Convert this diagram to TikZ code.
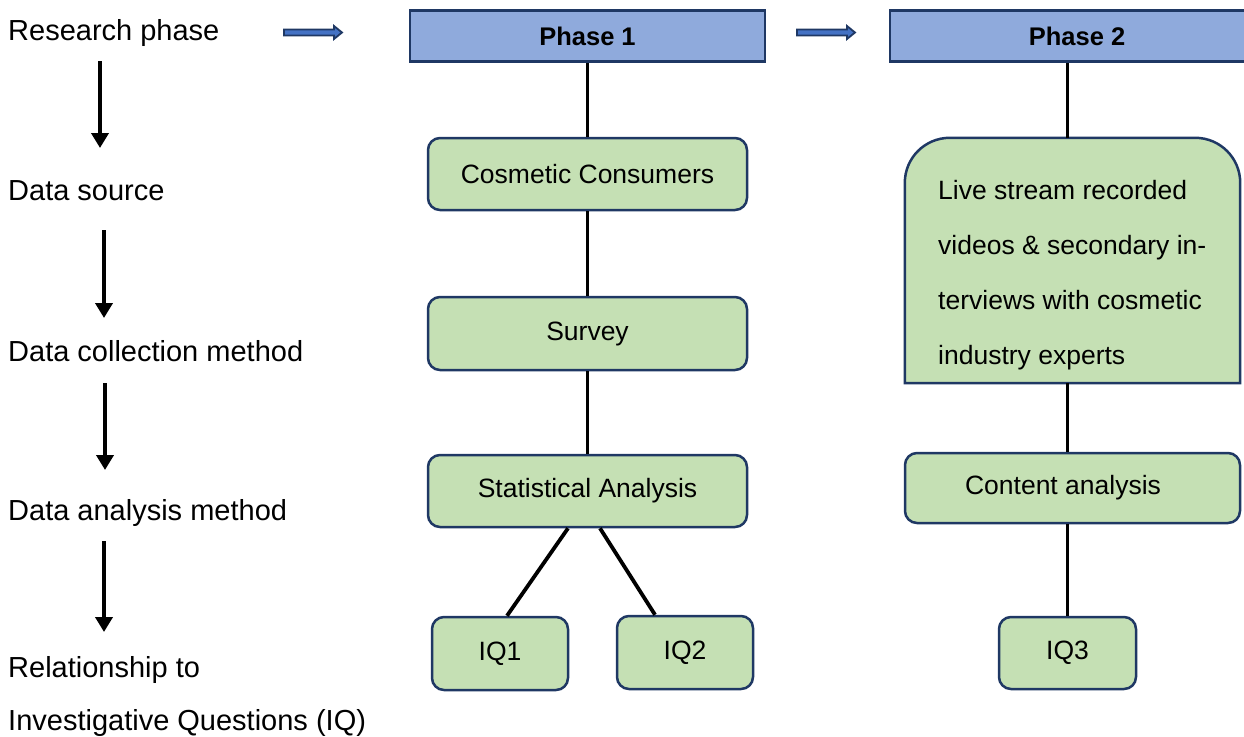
\documentclass[tikz,border=0pt]{standalone}
\usepackage{fontspec}
\setmainfont{Liberation Sans}
\usetikzlibrary{arrows.meta}
\definecolor{phaseblue}{HTML}{8FAADC}
\definecolor{navy}{HTML}{1F3864}
\definecolor{boxgreen}{HTML}{C5E0B4}
\definecolor{arrowblue}{HTML}{4472C4}
\tikzset{
  rowlabel/.style={anchor=west, inner sep=0pt, align=left, font=\fontsize{29}{53}\selectfont},
  phasebox/.style={draw=navy, fill=phaseblue, line width=2.5pt, inner sep=0pt,
    minimum height=51pt, font=\bfseries\fontsize{25.5}{30}\selectfont},
  greenbox/.style={draw=navy, fill=boxgreen, line width=2.5pt, rounded corners=12pt,
    inner sep=0pt, font=\fontsize{26.5}{30}\selectfont},
  widebox/.style={greenbox, minimum width=319pt, minimum height=72pt},
  iqbox/.style={greenbox, minimum width=136pt, minimum height=73pt},
  link/.style={line width=3.8pt, black},
  downarrow/.style={line width=4pt, black, -{Triangle[width=17pt,length=15pt]}},
  blockarrow/.pic={
    \filldraw[fill=arrowblue, draw=navy, line width=1.8pt, line join=miter]
      (0,-3) -- (50,-3) -- (50,-6.5) -- (58,0) -- (50,6.5) -- (50,3) -- (0,3) -- cycle;
  },
}
\begin{document}
\begin{tikzpicture}[x=1pt,y=-1pt]
\useasboundingbox (0,0) rectangle (1244,736);
\clip (0,0) rectangle (1244,736);

% row labels on the left
\node[rowlabel] (lphase)   at (8,33)    {Research phase};
\node[rowlabel] (lsource)  at (8,191)   {Data source};
\node[rowlabel] (lcollect) at (8,351)   {Data collection method};
\node[rowlabel] (lanalyse) at (8,513)   {Data analysis method};
\node[rowlabel] (lrel)     at (8,696.5) {Relationship to\\Investigative Questions (IQ)};

% downward arrows between the row labels
\coordinate (d1a) at (100,61);  \coordinate (d1b) at (100,148);
\coordinate (d2a) at (104,230); \coordinate (d2b) at (104,318);
\coordinate (d3a) at (105,383); \coordinate (d3b) at (105,470);
\coordinate (d4a) at (104,541); \coordinate (d4b) at (104,632);
\draw[downarrow] (d1a) -- (d1b);
\draw[downarrow] (d2a) -- (d2b);
\draw[downarrow] (d3a) -- (d3b);
\draw[downarrow] (d4a) -- (d4b);

% phase headers
\node[phasebox, minimum width=355pt] (p1) at (587.5,36) {Phase 1};
\node[phasebox, minimum width=374pt] (p2) at (1077,36)  {Phase 2};

% small block arrows pointing along the phases
\coordinate (ba1) at (284,32.5);
\coordinate (ba2) at (797,32.5);
\pic at (ba1) {blockarrow};
\pic at (ba2) {blockarrow};

% phase 1 column
\node[widebox] (cc)     at (587.5,174)   {Cosmetic Consumers};
\node[widebox, minimum height=73pt] (survey) at (587.5,333.5) {Survey};
\node[widebox] (stat)   at (587.5,491)   {Statistical Analysis};
\node[iqbox]   (iq1)    at (500,653.5)   {IQ1};
\node[iqbox]   (iq2)    at (685,652.5)   {IQ2};

\draw[link] (p1.south) -- (cc.north);
\draw[link] (cc.south) -- (survey.north);
\draw[link] (survey.south) -- (stat.north);
\draw[link] ([xshift=-19.5pt]stat.south) -- ([xshift=7pt]iq1.north);
\draw[link] ([xshift=12.5pt]stat.south) -- ([xshift=-30pt]iq2.north);

% phase 2 column
\node[inner sep=0pt, minimum width=335pt, minimum height=245pt] (live) at (1072.5,260.5) {};
\node[greenbox, minimum width=335pt, minimum height=70pt] (ca) at (1072.5,488) {\hspace*{-19pt}Content analysis};
\node[iqbox, minimum width=137pt, minimum height=72pt] (iq3) at (1067.5,653) {IQ3};

\filldraw[fill=boxgreen, draw=navy, line width=2.5pt]
  (live.south west) [rounded corners=45pt] -- (live.north west) -- (live.north east)
  [sharp corners] -- (live.south east) -- cycle;
\node[anchor=west, align=left, inner sep=0pt, font=\fontsize{26.5}{55}\selectfont] (livetext) at (938,275)
  {Live stream recorded\\videos \& secondary in-\\terviews with cosmetic\\industry experts};

\draw[link] (p2.south -| iq3.north) -- (live.north -| iq3.north);
\draw[link] (live.south -| iq3.north) -- (ca.north -| iq3.north);
\draw[link] (ca.south -| iq3.north) -- (iq3.north);
\end{tikzpicture}
\end{document}
